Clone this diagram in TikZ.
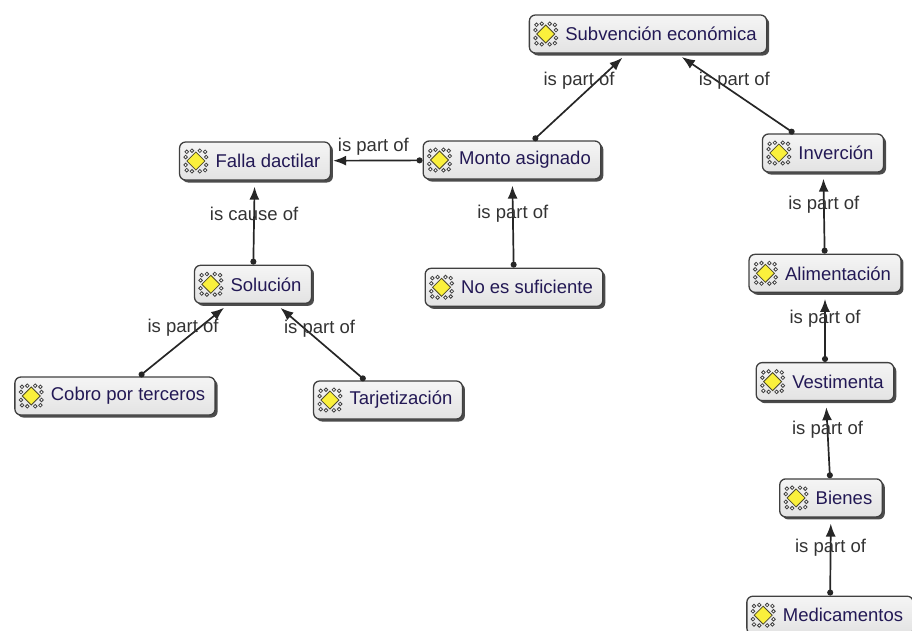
\documentclass[tikz,border=0pt]{standalone}
\usepackage{fontspec}
\setmainfont{Liberation Sans}
\usepackage{tikz}
\usetikzlibrary{shapes,arrows,arrows.meta,positioning,shadows}
\definecolor{navy}{RGB}{35, 25, 85}
\definecolor{lgray}{RGB}{51, 51, 51}
\definecolor{ylw}{RGB}{250, 240, 60}
\tikzstyle{concept} = [rectangle, rounded corners=6pt, draw=black!75, line width=1.3pt, top color=white!96!black, bottom color=black!11, text=navy, font=\fontsize{18.5}{20}\selectfont, minimum height=38pt, inner xsep=10pt, execute at begin node=\hspace*{26pt}, drop shadow={shadow xshift=2.5pt, shadow yshift=-2.5pt, fill=black!70, opacity=1}]
\tikzstyle{lbl} = [text=lgray, font=\fontsize{18.5}{20}\selectfont, inner sep=0pt]
\tikzstyle{tedge} = [draw, line width=1.7pt, black!85, {Circle[length=6pt]}-{Latex[length=13pt, width=10pt]}, shorten >=6pt]
\tikzset{cicon/.pic={
  \foreach \a in {45,135,225,315} {
    \draw[black!75, line width=0.8pt, fill=white] (\a:13) circle (1.8);
    \draw[black!75, line width=0.8pt, fill=white] (\a+24:11) circle (1.8);
    \draw[black!75, line width=0.8pt, fill=white] (\a-24:11) circle (1.8);
  }
  \draw[black!60!olive, line width=0.8pt, fill=ylw] (0,9) -- (9,0) -- (0,-9) -- (-9,0) -- cycle;
}}

\begin{document}
\begin{tikzpicture}[x=1pt, y=-1pt]
\useasboundingbox (0,0) rectangle (912,630);

% concepts =============================
\node[concept] (subv) at (648,34) {Subvención económica};
\node[concept] (monto) at (512,160) {Monto asignado};
\node[concept] (falla) at (255,161) {Falla dactilar};
\node[concept, below=88pt of monto, xshift=2pt] (nosuf) {No es suficiente};
\node[concept, below=84pt of falla, xshift=-2pt] (sol) {Solución};
\node[concept] (cobro) at (115,396) {Cobro por terceros};
\node[concept] (tarj) at (388,400) {Tarjetización};

% right column
\node[concept] (inver) at (823,153) {Inverción};
\node[concept, below=81pt of inver, xshift=2pt] (alim) {Alimentación};
\node[concept, below=69pt of alim] (vest) {Vestimenta};
\node[concept, below=77pt of vest, xshift=6pt] (bienes) {Bienes};
\node[concept, below=78pt of bienes, xshift=-1pt] (medic) {Medicamentos};

% icons
\foreach \n in {subv,monto,falla,nosuf,sol,cobro,tarj,inver,alim,vest,bienes,medic}
  \pic at ([xshift=17pt]\n.west) {cicon};

%edges
\path[tedge] (monto) -- node[lbl, pos=0.49, yshift=17pt] {is part of} (subv);
\path[tedge] (inver) -- node[lbl, pos=0.51, yshift=12pt] {is part of} (subv);
\path[tedge, shorten >=2pt] (monto) -- node[lbl, pos=0.537, yshift=14pt] {is part of} (falla);
\path[tedge] (sol) -- node[lbl, pos=0.61] {is cause of} (falla);
\path[tedge] (nosuf) -- node[lbl, pos=0.61] {is part of} (monto);
\path[tedge] (cobro) -- node[lbl, pos=0.49, yshift=13pt] {is part of} (sol);
\path[tedge] (tarj) -- node[lbl, pos=0.51, yshift=13pt] {is part of} (sol);

\path[tedge] (alim) -- node[lbl, pos=0.61] {is part of} (inver);
\path[tedge] (vest) -- node[lbl, pos=0.62] {is part of} (alim);
\path[tedge] (bienes) -- node[lbl, pos=0.63] {is part of} (vest);
\path[tedge] (medic) -- node[lbl, pos=0.61] {is part of} (bienes);

\end{tikzpicture}
\end{document}
